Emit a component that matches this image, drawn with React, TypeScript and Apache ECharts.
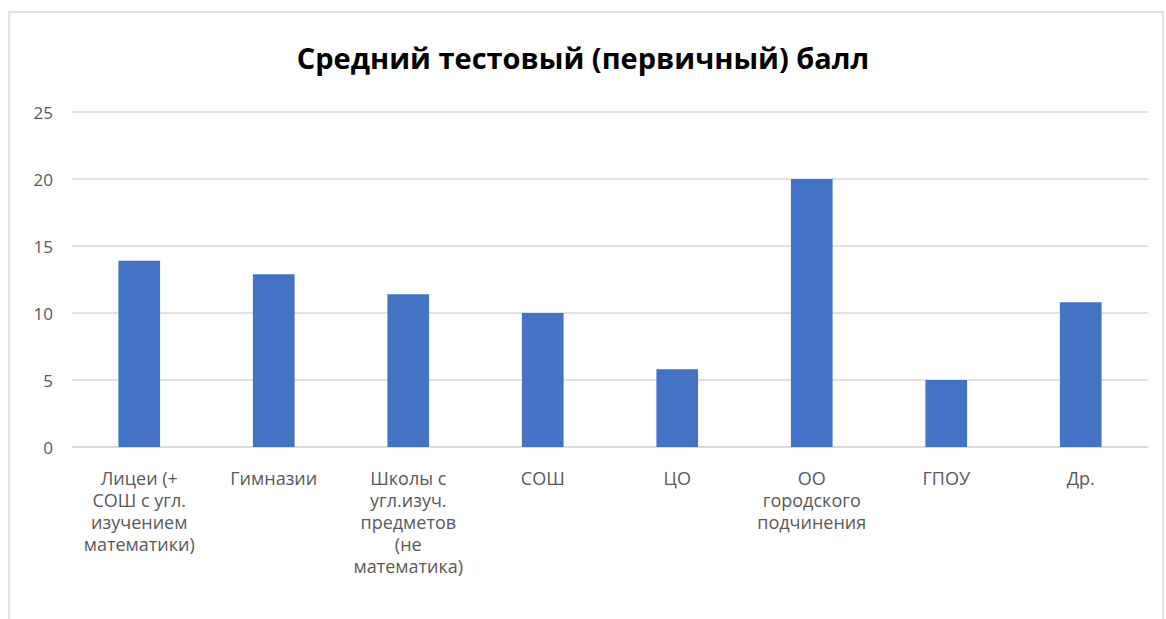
import React, { useEffect, useRef } from "react";
import * as echarts from "echarts";

const title = "Средний тестовый (первичный) балл";
const categories = [
  "Лицеи (+\nСОШ с угл.\nизучением\nматематики)",
  "Гимназии",
  "Школы с\nугл.изуч.\nпредметов\n(не\nматематика)",
  "СОШ",
  "ЦО",
  "ОО\nгородского\nподчинения",
  "ГПОУ",
  "Др.",
];
const values = [13.9, 12.9, 11.4, 10.0, 5.8, 20.0, 5.0, 10.8];
const yMin = 0;
const yMax = 25;
const yInterval = 5;

export default function App() {
  const ref = useRef<HTMLDivElement>(null);
  useEffect(() => {
    document.body.style.margin = "0";
    if (!ref.current) return;
    const chart = echarts.init(ref.current, null, { renderer: "svg" });
    const font = "'Open Sans', 'Noto Sans', sans-serif";
    chart.setOption({
      animation: false,
      backgroundColor: "#ffffff",
      textStyle: { fontFamily: font },
      title: {
        text: title,
        left: "center",
        top: 38,
        textStyle: { fontFamily: font, fontSize: 29, fontWeight: "bold", color: "#000000" },
      },
      graphic: [
        {
          type: "rect",
          shape: { x: 9, y: 12, width: 1154, height: 640 },
          style: { fill: "none", stroke: "#d9d9d9", lineWidth: 1.5 },
          silent: true,
        },
      ],
      grid: { left: 72, right: 18, top: 112, bottom: 172, containLabel: false },
      xAxis: {
        type: "category",
        data: categories,
        axisLine: { show: true, lineStyle: { color: "#d9d9d9", width: 1.5 } },
        axisTick: { show: false },
        axisLabel: {
          interval: 0,
          color: "#595959",
          fontSize: 18,
          lineHeight: 22,
          margin: 20,
          fontFamily: font,
          align: "center",
        },
      },
      yAxis: {
        type: "value",
        min: yMin,
        max: yMax,
        interval: yInterval,
        axisLine: { show: false },
        axisTick: { show: false },
        splitLine: { lineStyle: { color: "#d9d9d9", width: 1.5 } },
        axisLabel: { color: "#595959", fontSize: 17, margin: 19, fontFamily: font },
      },
      series: [
        {
          type: "bar",
          data: values,
          barWidth: "31%",
          itemStyle: { color: "#4472C4" },
        },
      ],
    });
    return () => chart.dispose();
  }, []);
  return <div ref={ref} style={{ width: 1166, height: 619 }} />;
}
